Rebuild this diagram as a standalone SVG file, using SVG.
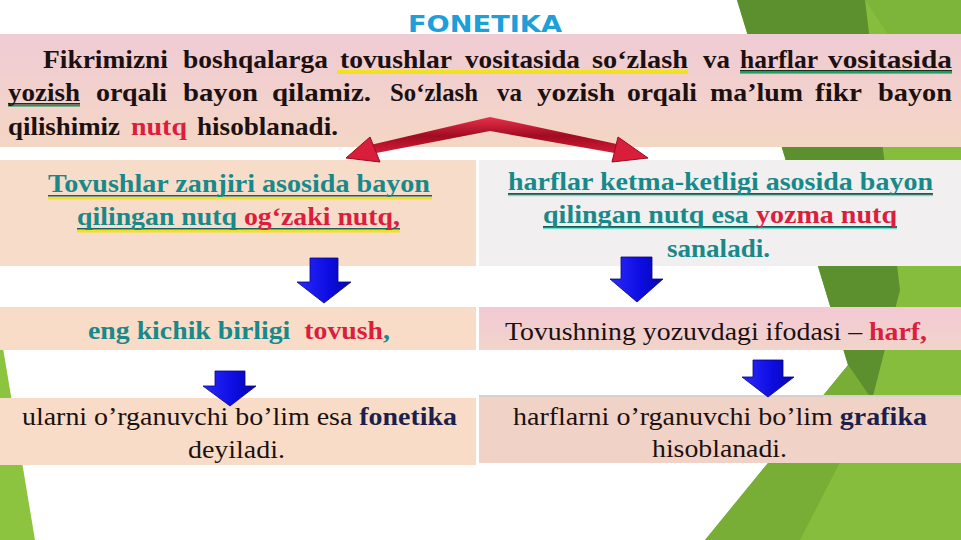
<svg xmlns="http://www.w3.org/2000/svg" width="961" height="540" viewBox="0 0 961 540">
<defs>
  <linearGradient id="gHead" x1="0" y1="0" x2="0" y2="1">
    <stop offset="0" stop-color="#efcbd4"/>
    <stop offset="1" stop-color="#f4d6c5"/>
  </linearGradient>
  <linearGradient id="gPink" x1="0" y1="0" x2="0" y2="1">
    <stop offset="0" stop-color="#f3c9d4"/>
    <stop offset="1" stop-color="#f1d4ca"/>
  </linearGradient>
  <linearGradient id="gRed" x1="0" y1="0" x2="0" y2="1">
    <stop offset="0" stop-color="#e8304a"/>
    <stop offset="0.5" stop-color="#a00c22"/>
    <stop offset="1" stop-color="#d81e3a"/>
  </linearGradient>
  <linearGradient id="gBlue" x1="0" y1="0" x2="1" y2="0">
    <stop offset="0" stop-color="#2a2aff"/>
    <stop offset="0.6" stop-color="#0c0ce0"/>
    <stop offset="1" stop-color="#0808a8"/>
  </linearGradient>
  <style>
    text{font-family:'Liberation Serif','Times New Roman',serif;font-size:25px}
    .p{font-weight:bold;fill:#1c1010}
    .b{font-weight:bold}
    .r{fill:#1c1010}
    .teal{fill:#17898a}
    .red{fill:#dc1e3e}
    .navy{fill:#1d1f4c;font-weight:bold}
    .arr{fill:url(#gBlue);stroke:#05057a;stroke-width:0.8}
    .ttl{font-family:'DejaVu Sans',Verdana,sans-serif;font-weight:bold;font-size:23px;fill:#1d9fd9}
  </style>
</defs>

<rect width="961" height="540" fill="#ffffff"/>

<!-- background green facets -->
<g id="background">
  <polygon points="737,0 961,0 961,540 705,540 848,365" fill="#86bd3c"/>
  <polygon points="737,0 865,0 900,290 872,400 848,365" fill="#5c8f2e"/>
  <polygon points="705,540 848,365 872,400 800,540" fill="#78ad36"/>
  <polygon points="865,0 961,0 961,120 905,60" fill="#7db53a"/>
  <polygon points="0,330 35,540 0,540" fill="#8cc43f"/>
</g>

<!-- title -->
<g id="title">
  <text class="ttl" x="408" y="32" textLength="154" lengthAdjust="spacingAndGlyphs">FONETIKA</text>
</g>

<!-- header paragraph -->
<g id="intro">
  <rect x="0" y="34" width="961" height="113" fill="url(#gHead)"/>
  <rect x="337" y="70" width="351" height="4" fill="#f2e21c"/>
  <rect x="740" y="70" width="212" height="1.6" fill="#1c3020"/>
  <rect x="740" y="72" width="212" height="1.6" fill="#1aa060"/>
  <rect x="8" y="103" width="72" height="1.6" fill="#1c3020"/>
  <rect x="8" y="105" width="72" height="1.6" fill="#1aa060"/>
  <text class="p" x="43" y="68" textLength="125" lengthAdjust="spacingAndGlyphs">Fikrimizni</text>
  <text class="p" x="183" y="68" textLength="145" lengthAdjust="spacingAndGlyphs">boshqalarga</text>
  <text class="p" x="340" y="68" textLength="112" lengthAdjust="spacingAndGlyphs">tovushlar</text>
  <text class="p" x="465" y="68" textLength="115" lengthAdjust="spacingAndGlyphs">vositasida</text>
  <text class="p" x="592" y="68" textLength="96" lengthAdjust="spacingAndGlyphs">so‘zlash</text>
  <text class="p" x="703" y="68" textLength="27" lengthAdjust="spacingAndGlyphs">va</text>
  <text class="p" x="740" y="68" textLength="78" lengthAdjust="spacingAndGlyphs">harflar</text>
  <text class="p" x="828" y="68" textLength="124" lengthAdjust="spacingAndGlyphs">vositasida</text>

  <text class="p" x="8" y="101" textLength="72" lengthAdjust="spacingAndGlyphs">yozish</text>
  <text class="p" x="96" y="101" textLength="71" lengthAdjust="spacingAndGlyphs">orqali</text>
  <text class="p" x="183" y="101" textLength="75" lengthAdjust="spacingAndGlyphs">bayon</text>
  <text class="p" x="272" y="101" textLength="99" lengthAdjust="spacingAndGlyphs">qilamiz.</text>
  <text class="p" x="390" y="101" textLength="88" lengthAdjust="spacingAndGlyphs">So‘zlash</text>
  <text class="p" x="497" y="101" textLength="25" lengthAdjust="spacingAndGlyphs">va</text>
  <text class="p" x="537" y="101" textLength="78" lengthAdjust="spacingAndGlyphs">yozish</text>
  <text class="p" x="627" y="101" textLength="70" lengthAdjust="spacingAndGlyphs">orqali</text>
  <text class="p" x="710" y="101" textLength="93" lengthAdjust="spacingAndGlyphs">ma’lum</text>
  <text class="p" x="815" y="101" textLength="47" lengthAdjust="spacingAndGlyphs">fikr</text>
  <text class="p" x="878" y="101" textLength="74" lengthAdjust="spacingAndGlyphs">bayon</text>

  <text class="p" x="8" y="135" textLength="112" lengthAdjust="spacingAndGlyphs">qilishimiz</text>
  <text class="p red" x="131" y="135" textLength="56" lengthAdjust="spacingAndGlyphs">nutq</text>
  <text class="p" x="197" y="135" textLength="141" lengthAdjust="spacingAndGlyphs">hisoblanadi.</text>
</g>

<!-- row 2 -->
<g id="oral-speech">
  <rect x="0" y="160" width="476" height="106" fill="#f7dcc9"/>
  <rect x="48" y="195" width="384" height="1.5" fill="#1a6060"/>
  <rect x="48" y="197" width="384" height="2.5" fill="#f2e21c"/>
  <rect x="77" y="228" width="323" height="1.5" fill="#1a6060"/>
  <rect x="77" y="230" width="323" height="2.5" fill="#f2e21c"/>
  <text class="b teal" x="48" y="192" textLength="382" lengthAdjust="spacingAndGlyphs">Tovushlar zanjiri asosida bayon</text>
  <text class="b teal" x="77" y="225" textLength="323" lengthAdjust="spacingAndGlyphs">qilingan nutq <tspan class="red">og‘zaki nutq,</tspan></text>
</g>

<g id="written-speech">
  <rect x="479" y="160" width="482" height="106" fill="#f1efef"/>
  <rect x="508" y="193" width="425" height="1.8" fill="#175a52"/>
  <rect x="508" y="195" width="425" height="1.2" fill="#6ee0d0"/>
  <rect x="543" y="226" width="354" height="1.8" fill="#175a52"/>
  <rect x="543" y="228" width="354" height="1.2" fill="#6ee0d0"/>
  <text class="b teal" x="508" y="190" textLength="425" lengthAdjust="spacingAndGlyphs">harflar ketma-ketligi asosida bayon</text>
  <text class="b teal" x="543" y="223" textLength="354" lengthAdjust="spacingAndGlyphs">qilingan nutq esa <tspan class="red">yozma nutq</tspan></text>
  <text class="b teal" x="667" y="257" textLength="103" lengthAdjust="spacingAndGlyphs">sanaladi.</text>
</g>

<!-- row 3 -->
<g id="smallest-unit">
  <rect x="0" y="307" width="476" height="43" fill="#f8dcc7"/>
  <text class="b teal" x="88" y="339" textLength="302" lengthAdjust="spacingAndGlyphs" xml:space="preserve">eng kichik birligi  <tspan class="red">tovush</tspan>,</text>
</g>

<g id="letter">
  <rect x="479" y="307" width="482" height="43" fill="url(#gPink)"/>
  <text class="r" x="505" y="340" textLength="422" lengthAdjust="spacingAndGlyphs">Tovushning yozuvdagi ifodasi – <tspan class="red" font-weight="bold">harf,</tspan></text>
</g>

<!-- row 4 -->
<g id="phonetics">
  <rect x="0" y="398" width="476" height="67" fill="#f8dcc8"/>
  <text class="r" x="22" y="425" textLength="435" lengthAdjust="spacingAndGlyphs">ularni o’rganuvchi bo’lim esa <tspan class="navy">fonetika</tspan></text>
  <text class="r" x="188" y="458" textLength="97" lengthAdjust="spacingAndGlyphs">deyiladi.</text>
</g>

<g id="graphics">
  <rect x="479" y="395" width="482" height="68" fill="#f0d3c6"/>
  <rect x="479" y="395" width="482" height="2" fill="#d8cfcf"/>
  <text class="r" x="513" y="425" textLength="414" lengthAdjust="spacingAndGlyphs">harflarni o’rganuvchi bo’lim <tspan class="navy">grafika</tspan></text>
  <text class="r" x="652" y="457" textLength="135" lengthAdjust="spacingAndGlyphs">hisoblanadi.</text>
</g>

<!-- connectors -->
<g id="connectors">
  <path d="M366 146 L490 117 L626 146 L626 155 L490 131 L366 155 Z" fill="url(#gRed)"/>
  <polygon points="346,158 370,137 380,162" fill="#d81e3a" stroke="#9a0a20" stroke-width="1"/>
  <polygon points="648,158 618,137 612,162" fill="#d81e3a" stroke="#9a0a20" stroke-width="1"/>
  <path class="arr" d="M310 258 H338 V282 H351 L324 303 L297 282 H310 Z"/>
  <path class="arr" d="M621 257 H652 V279 H663 L637 302 L610 279 H621 Z"/>
  <path class="arr" d="M215 371 H245 V386 H256 L230 406 L203 386 H215 Z"/>
  <path class="arr" d="M753 360 H783 V377 H794 L768 397 L742 377 H753 Z"/>
</g>
</svg>
